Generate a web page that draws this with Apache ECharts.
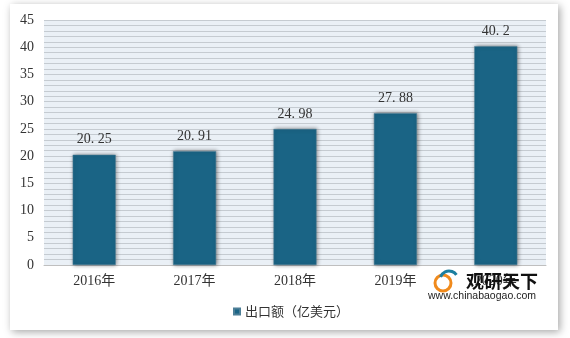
<!DOCTYPE html>
<html><head><meta charset="utf-8">
<script src="https://cdn.jsdelivr.net/npm/echarts@6/dist/echarts.min.js"></script>
<style>html,body{margin:0;padding:0;background:#fff}#c{width:570px;height:338px}</style>
</head><body><div id="c"></div>
<script>
var categories = ['2016年','2017年','2018年','2019年','2020年'];
var values = [20.25, 20.91, 24.98, 27.88, 40.2];
var labels = ['20. 25','20. 91','24. 98','27. 88','40. 2'];
var seriesName = '出口额（亿美元）';
var chart = echarts.init(document.getElementById('c'));
chart.setOption({
  animation:false,
  backgroundColor:'#ffffff',
  graphic:[
    {type:'rect',z:-10,shape:{x:10,y:4,width:548,height:326},style:{fill:'#fff',shadowBlur:8,shadowColor:'rgba(0,0,0,0.35)',shadowOffsetX:2,shadowOffsetY:2}},
    {type:'text',left:466,top:272,z:10,style:{text:'观研天下',font:'bold 18px "Noto Sans CJK SC"',fill:'#111'}},
    {type:'text',left:428,top:291,z:10,style:{text:'www.chinabaogao.com',font:'10.5px "Liberation Sans"',fill:'#222'}},
    {type:'circle',z:10,shape:{cx:443,cy:283,r:8},style:{fill:'none',stroke:'#f08a1c',lineWidth:3}},
    {type:'arc',z:11,shape:{cx:449,cy:280,r:9,startAngle:-2.8,endAngle:-0.6},style:{fill:'none',stroke:'#1b7fa0',lineWidth:3}}
  ],
  grid:{left:44,right:24,top:20,bottom:73},
  legend:{data:[seriesName],left:228,top:300,itemWidth:6,itemHeight:6,icon:'rect',itemGap:4,
    textStyle:{fontFamily:'"Noto Sans CJK SC"',fontSize:13,color:'#333'}},
  xAxis:{type:'category',data:categories,
    axisLine:{lineStyle:{color:'#bfbfbf'}},axisTick:{show:false},
    axisLabel:{color:'#333',fontSize:14,fontFamily:'"Liberation Serif","Noto Sans CJK SC"',margin:9}},
  yAxis:{type:'value',min:0,max:45,interval:5,
    axisLine:{show:false},axisTick:{show:false},
    axisLabel:{color:'#333',fontSize:14,fontFamily:'"Liberation Serif"',margin:10},
    splitLine:{show:true,lineStyle:{color:'#c5cbd1',width:1}},
    minorTick:{show:false,splitNumber:5},
    minorSplitLine:{show:true,lineStyle:{color:'#c5cbd1',width:1}},
    splitArea:{show:true,areaStyle:{color:['#eaf0f6','#eaf0f6']}}},
  series:[{name:seriesName,type:'bar',data:values,barWidth:43,
    itemStyle:{color:'#1a6485',shadowBlur:4,shadowColor:'rgba(0,0,0,0.45)',shadowOffsetX:1,shadowOffsetY:0,borderColor:'#4d7f97',borderWidth:0.5},
    label:{show:true,position:'top',distance:8,color:'#333',fontSize:14,fontFamily:'"Liberation Serif"',
      formatter:function(p){return labels[p.dataIndex];}}}]
});
</script></body></html>
